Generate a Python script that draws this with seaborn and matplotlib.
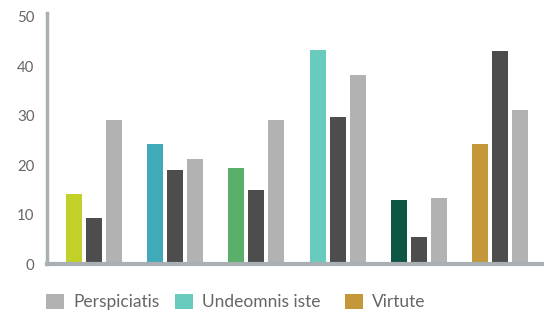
import numpy as np
import pandas as pd
import matplotlib
matplotlib.use("Agg")
import matplotlib.pyplot as plt
import seaborn as sns
from matplotlib.patches import Patch

# data
groups = ["A", "B", "C", "D", "E", "F"]
accent_vals = [14.1, 24.3, 19.4, 43.3, 12.9, 24.3]
dark_vals = [9.4, 19.0, 14.9, 29.8, 5.5, 43.1]
light_vals = [29.2, 21.2, 29.2, 38.2, 13.3, 31.2]
accent_colors = ["#c2d12a", "#41aab8", "#5aaf6a", "#68cbbd", "#0e5544", "#c49839"]
legend_labels = ["Perspiciatis", "Undeomnis iste", "Virtute"]
legend_colors = ["#b2b2b2", "#68cbbd", "#c49839"]
yticks = [0, 10, 20, 30, 40, 50]

sns.set_style("white")
plt.rcParams["font.family"] = ["Lato", "DejaVu Sans"]

df = pd.DataFrame({
    "group": groups * 3,
    "series": ["accent"] * 6 + ["dark"] * 6 + ["light"] * 6,
    "value": accent_vals + dark_vals + light_vals,
})

fig = plt.figure(figsize=(5.44, 3.15), dpi=100)
ax = fig.add_axes([47 / 544, 51 / 315, 1 - 47 / 544, 251 / 315])

sns.barplot(data=df, x="group", y="value", hue="series",
            palette=["#68cbbd", "#4d4d4d", "#b2b2b2"],
            width=0.739, gap=0.2, legend=False, ax=ax, saturation=1)

# first bar of each group gets its own colour
for bar, c in zip(ax.containers[0], accent_colors):
    bar.set_facecolor(c)
for cont in ax.containers:
    for bar in cont:
        bar.set_edgecolor("none")

ax.set_xlim(-0.579, 5.54)
ax.set_ylim(0, 50.8)
ax.set_yticks(yticks)
ax.set_xticks([])
ax.set_xlabel("")
ax.set_ylabel("")
ax.tick_params(axis="y", length=0, pad=9, labelsize=10.8, labelcolor="#666666")

for s in ["top", "right"]:
    ax.spines[s].set_visible(False)
ax.spines["left"].set_color("#a8b0b4")
ax.spines["left"].set_linewidth(2.5)
ax.spines["bottom"].set_color("#a8b0b4")
ax.spines["bottom"].set_linewidth(3)

# legend items placed one by one, as in the reference
legend_x = [46, 175, 345]
for lab, col, x in zip(legend_labels, legend_colors, legend_x):
    fig.legend([Patch(facecolor=col, edgecolor="none")], [lab],
               loc="center left", bbox_to_anchor=(x / 544, 1 - 302 / 315),
               frameon=False, fontsize=12.5, labelcolor="#666666",
               borderpad=0, borderaxespad=0,
               handlelength=1.03, handleheight=0.97, handletextpad=0.52)

fig.savefig("out.png", dpi=100)
